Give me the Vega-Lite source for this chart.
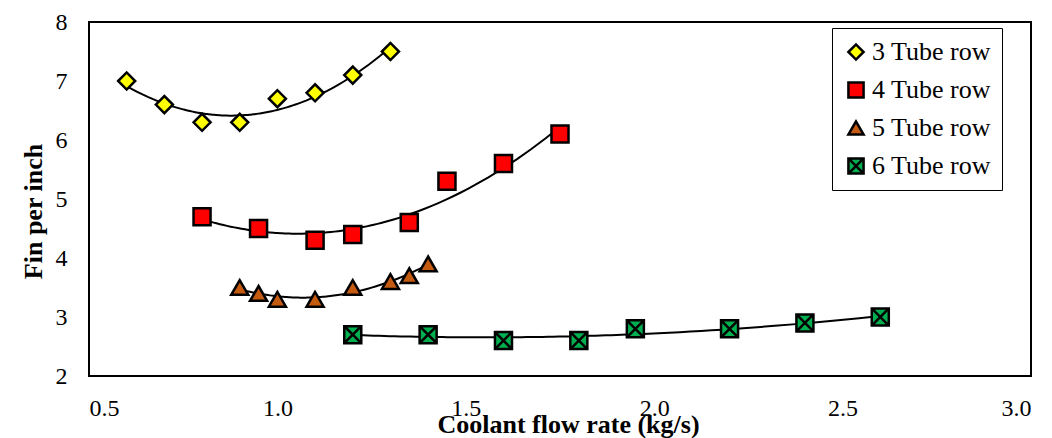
{
  "$schema": "https://vega.github.io/schema/vega-lite/v6.json",
  "width": 942,
  "height": 354,
  "autosize": {"type": "none"},
  "padding": {"left": 89, "top": 22, "right": 21, "bottom": 62},
  "background": "white",
  "config": {
    "font": "Liberation Serif",
    "view": {"stroke": "black", "strokeWidth": 2},
    "axis": {
      "grid": false,
      "domain": false,
      "ticks": false,
      "labelFont": "Liberation Serif",
      "labelFontSize": 24,
      "labelColor": "black",
      "titleFont": "Liberation Serif",
      "titleFontSize": 26,
      "titleFontWeight": "bold",
      "titleColor": "black"
    }
  },
  "data": {
    "values": [
      {"series": "3 Tube row", "flow": 0.6, "fpi": 7.0},
      {"series": "3 Tube row", "flow": 0.7, "fpi": 6.6},
      {"series": "3 Tube row", "flow": 0.8, "fpi": 6.3},
      {"series": "3 Tube row", "flow": 0.9, "fpi": 6.3},
      {"series": "3 Tube row", "flow": 1.0, "fpi": 6.7},
      {"series": "3 Tube row", "flow": 1.1, "fpi": 6.8},
      {"series": "3 Tube row", "flow": 1.2, "fpi": 7.1},
      {"series": "3 Tube row", "flow": 1.3, "fpi": 7.5},
      {"series": "4 Tube row", "flow": 0.8, "fpi": 4.7},
      {"series": "4 Tube row", "flow": 0.95, "fpi": 4.5},
      {"series": "4 Tube row", "flow": 1.1, "fpi": 4.3},
      {"series": "4 Tube row", "flow": 1.2, "fpi": 4.4},
      {"series": "4 Tube row", "flow": 1.35, "fpi": 4.6},
      {"series": "4 Tube row", "flow": 1.45, "fpi": 5.3},
      {"series": "4 Tube row", "flow": 1.6, "fpi": 5.6},
      {"series": "4 Tube row", "flow": 1.75, "fpi": 6.1},
      {"series": "5 Tube row", "flow": 0.9, "fpi": 3.5},
      {"series": "5 Tube row", "flow": 0.95, "fpi": 3.4},
      {"series": "5 Tube row", "flow": 1.0, "fpi": 3.3},
      {"series": "5 Tube row", "flow": 1.1, "fpi": 3.3},
      {"series": "5 Tube row", "flow": 1.2, "fpi": 3.5},
      {"series": "5 Tube row", "flow": 1.3, "fpi": 3.6},
      {"series": "5 Tube row", "flow": 1.35, "fpi": 3.7},
      {"series": "5 Tube row", "flow": 1.4, "fpi": 3.9},
      {"series": "6 Tube row", "flow": 1.2, "fpi": 2.7},
      {"series": "6 Tube row", "flow": 1.4, "fpi": 2.7},
      {"series": "6 Tube row", "flow": 1.6, "fpi": 2.6},
      {"series": "6 Tube row", "flow": 1.8, "fpi": 2.6},
      {"series": "6 Tube row", "flow": 1.95, "fpi": 2.8},
      {"series": "6 Tube row", "flow": 2.2, "fpi": 2.8},
      {"series": "6 Tube row", "flow": 2.4, "fpi": 2.9},
      {"series": "6 Tube row", "flow": 2.6, "fpi": 3.0}
    ]
  },
  "layer": [
    {
      "transform": [
        {"regression": "fpi", "on": "flow", "groupby": ["series"], "method": "poly", "order": 2}
      ],
      "mark": {"type": "line", "color": "black", "strokeWidth": 2},
      "encoding": {
        "x": {"field": "flow", "type": "quantitative", "scale": {"domain": [0.5, 3.0], "nice": false, "zero": false}},
        "y": {"field": "fpi", "type": "quantitative", "scale": {"domain": [2, 8], "nice": false, "zero": false}},
        "detail": {"field": "series"}
      }
    },
    {
      "mark": {"type": "point", "filled": true, "stroke": "black", "strokeWidth": 2.5, "opacity": 1, "size": 290},
      "encoding": {
        "x": {
          "field": "flow",
          "type": "quantitative",
          "scale": {"domain": [0.5, 3.0], "nice": false, "zero": false},
          "axis": {
            "values": [0.5, 1.0, 1.5, 2.0, 2.5, 3.0],
            "format": ".1f",
            "labelPadding": 20,
            "title": "Coolant flow rate (kg/s)",
            "titleX": 479,
            "titleY": 56,
            "titleAlign": "center",
            "titleBaseline": "alphabetic"
          }
        },
        "y": {
          "field": "fpi",
          "type": "quantitative",
          "scale": {"domain": [2, 8], "nice": false, "zero": false},
          "axis": {
            "values": [2, 3, 4, 5, 6, 7, 8],
            "format": "d",
            "labelPadding": 22,
            "title": "Fin per inch",
            "titleAngle": -90,
            "titleX": -48,
            "titleY": 189,
            "titleAlign": "center",
            "titleBaseline": "alphabetic"
          }
        },
        "color": {
          "field": "series",
          "type": "nominal",
          "scale": {
            "domain": ["3 Tube row", "4 Tube row", "5 Tube row", "6 Tube row"],
            "range": ["#FFFF00", "#FF0000", "#C55A11", "#00B050"]
          },
          "legend": {
            "title": null,
            "orient": "none",
            "legendX": 743,
            "legendY": 6,
            "strokeColor": "black",
            "fillColor": "white",
            "padding": 11,
            "rowPadding": 12,
            "labelFontSize": 26,
            "labelFont": "Liberation Serif",
            "labelColor": "black",
            "symbolSize": 230,
            "symbolStrokeColor": "black",
            "symbolStrokeWidth": 2.5,
            "labelOffset": 3
          }
        },
        "shape": {
          "field": "series",
          "type": "nominal",
          "scale": {
            "domain": ["3 Tube row", "4 Tube row", "5 Tube row", "6 Tube row"],
            "range": ["diamond", "square", "triangle-up", "M-1,-1H1V1H-1Z M-1,-1L1,1M-1,1L1,-1"]
          },
          "legend": {
            "title": null,
            "orient": "none",
            "legendX": 743,
            "legendY": 6,
            "strokeColor": "black",
            "fillColor": "white",
            "padding": 11,
            "rowPadding": 12,
            "labelFontSize": 26,
            "labelFont": "Liberation Serif",
            "labelColor": "black",
            "symbolSize": 230,
            "symbolStrokeColor": "black",
            "symbolStrokeWidth": 2.5,
            "labelOffset": 3
          }
        }
      }
    }
  ]
}
